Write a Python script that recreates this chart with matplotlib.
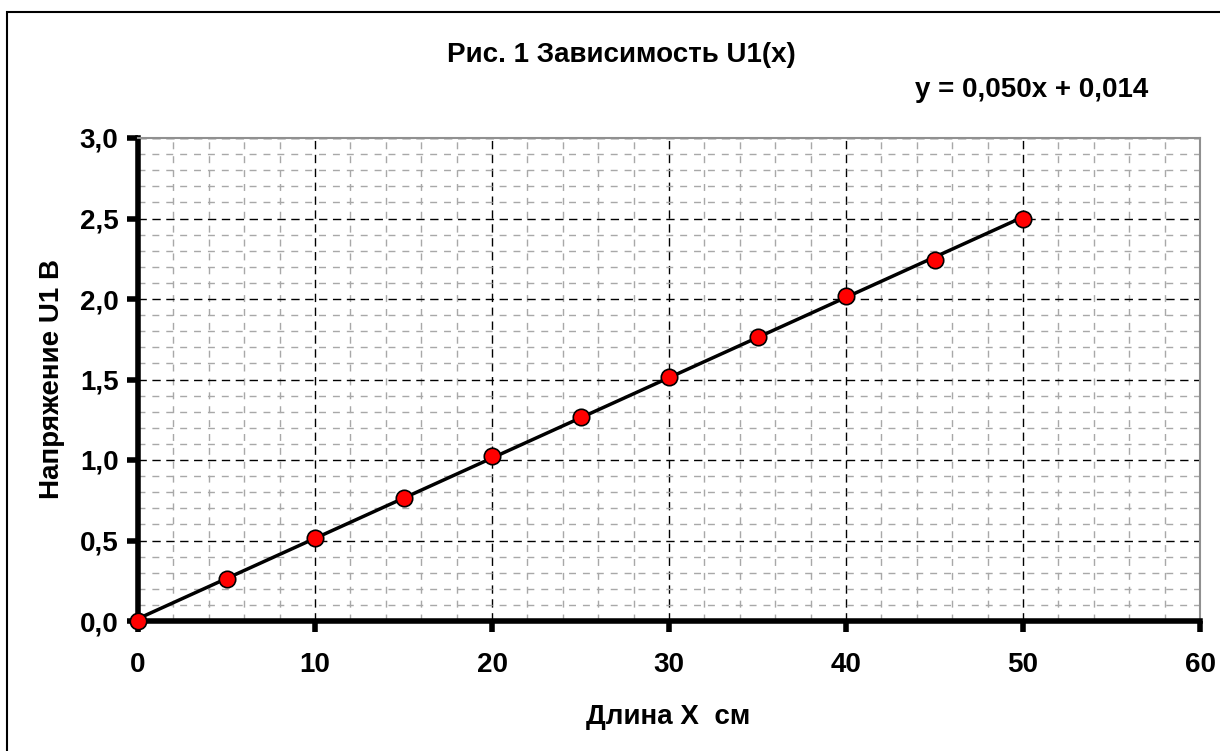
import matplotlib
matplotlib.use("Agg")
import matplotlib.pyplot as plt
import numpy as np
from matplotlib.ticker import MultipleLocator, FuncFormatter
from matplotlib.patches import Rectangle

x_cm = [0, 5, 10, 15, 20, 25, 30, 35, 40, 45, 50]
u1_v = [0.0, 0.26, 0.515, 0.765, 1.025, 1.27, 1.515, 1.765, 2.02, 2.245, 2.50]
title = "Рис. 1 Зависимость U1(x)"
equation = "y = 0,050x + 0,014"
xlabel = "Длина X  см"
ylabel = "Напряжение U1 В"

plt.rcParams['font.family'] = ['Liberation Sans', 'DejaVu Sans']
W, H = 1220, 751
fig = plt.figure(figsize=(W/100, H/100), dpi=100)

# outer frame
fig.patches.append(Rectangle((7/W, -0.05), 1.1, 1 - 12/H + 0.05, transform=fig.transFigure,
                             fill=False, edgecolor='black', linewidth=1.5))

left, right = 138/W, 1200/W
bottom, top = 1 - 621/H, 1 - 138/H
ax = fig.add_axes([left, bottom, right-left, top-bottom])
ax.set_xlim(0, 60)
ax.set_ylim(0, 3.0)

ax.xaxis.set_major_locator(MultipleLocator(10))
ax.xaxis.set_minor_locator(MultipleLocator(2))
ax.yaxis.set_major_locator(MultipleLocator(0.5))
ax.yaxis.set_minor_locator(MultipleLocator(0.1))
ax.yaxis.set_major_formatter(FuncFormatter(lambda v, p: f"{v:.1f}".replace('.', ',')))

ax.grid(which='minor', color='#a8a8a8', linestyle=(0, (5, 5)), linewidth=1.0)
ax.grid(which='major', color='black', linestyle=(0, (6, 4)), linewidth=1.0)
ax.set_axisbelow(True)

for s in ['left', 'bottom']:
    ax.spines[s].set_linewidth(4)
    ax.spines[s].set_color('black')
for s in ['top', 'right']:
    ax.spines[s].set_linewidth(1.5)
    ax.spines[s].set_color('#909090')

fs = 20
ax.tick_params(which='major', direction='out', length=8, width=4, labelsize=fs)
ax.tick_params(which='minor', length=0)
ax.tick_params(axis='y', pad=6)
ax.tick_params(axis='x', pad=14)
for lbl in ax.get_xticklabels() + ax.get_yticklabels():
    lbl.set_fontweight('bold')

coef = np.polyfit(x_cm, u1_v, 1)
xf = np.array([x_cm[0], x_cm[-1]])
ax.plot(xf, np.polyval(coef, xf), color='black', linewidth=2.5, zorder=3)
ax.scatter(x_cm, u1_v, s=140, color='#ff0000', edgecolor='black', linewidth=1.2, zorder=4, clip_on=False)

fig.text(621/W, 1 - 55/H, title, ha='center', va='center', fontsize=fs, fontweight='bold')
fig.text(1032/W, 1 - 90/H, equation, ha='center', va='center', fontsize=fs, fontweight='bold')
fig.text(668/W, 1 - 717/H, xlabel, ha='center', va='center', fontsize=fs, fontweight='bold')
fig.text(52/W, 1 - 379/H, ylabel, ha='center', va='center', fontsize=fs, fontweight='bold', rotation=90)

fig.savefig('out.png', dpi=100, facecolor='white')
